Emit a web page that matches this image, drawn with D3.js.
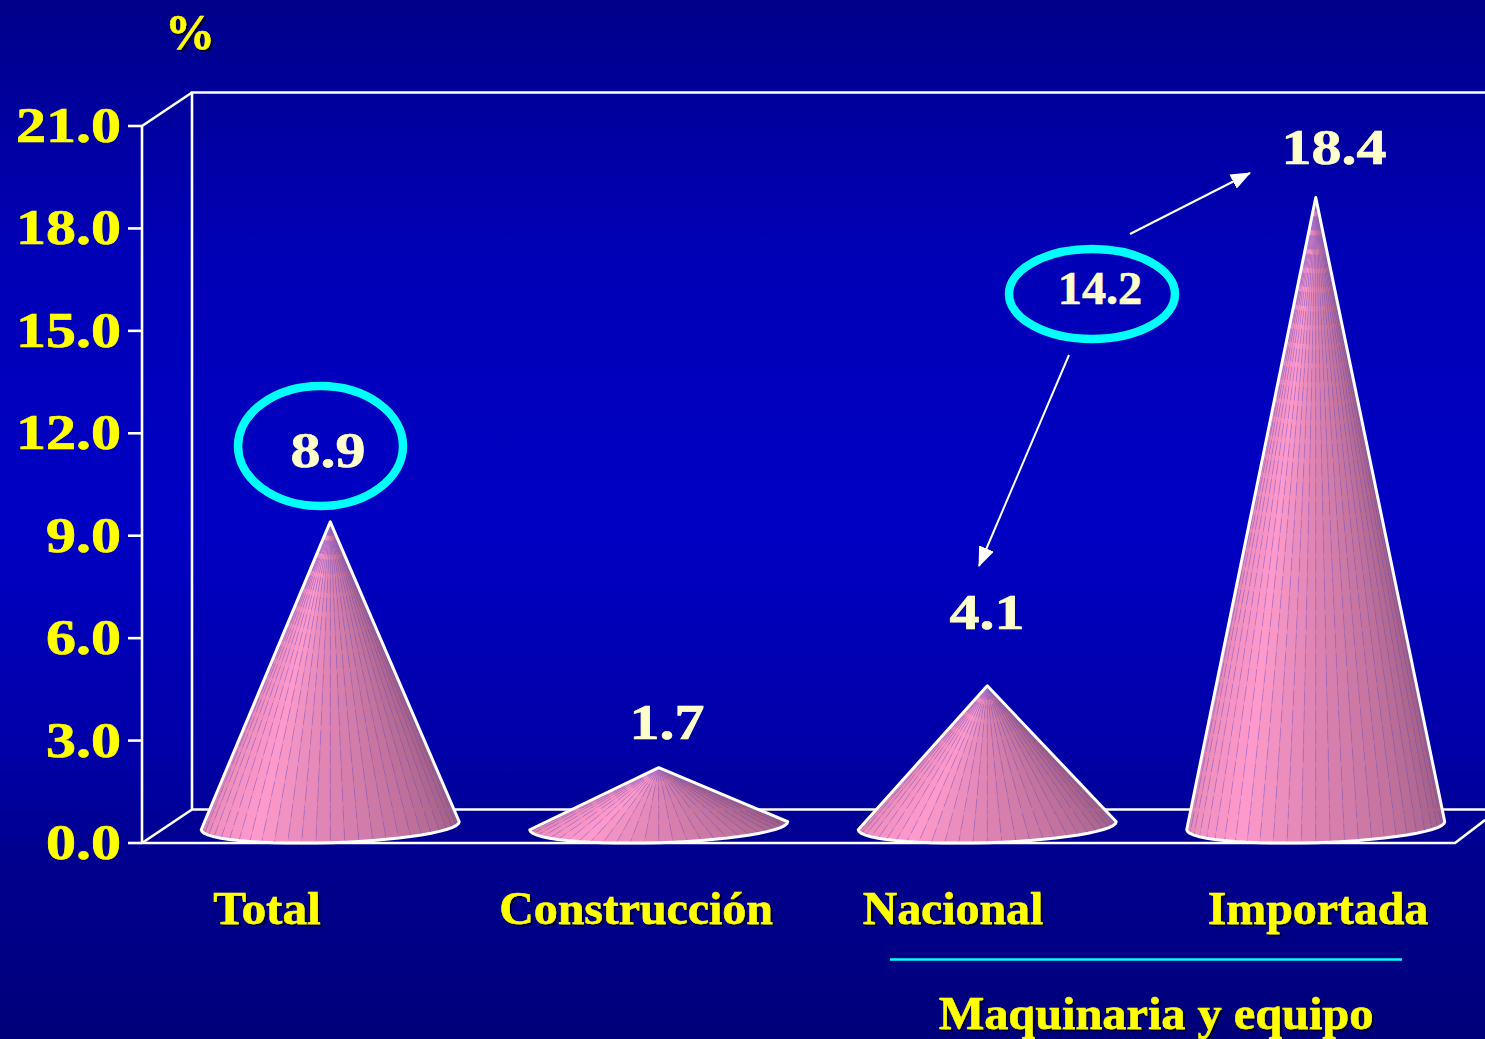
<!DOCTYPE html>
<html><head><meta charset="utf-8">
<script src="https://cdn.jsdelivr.net/npm/d3@7/dist/d3.min.js"></script>
<style>html,body{margin:0;padding:0;background:#000080;overflow:hidden}svg{display:block}
text{font-family:"Liberation Serif",serif;font-weight:bold}</style></head><body>
<script>
const categories = ["Total","Construcción","Nacional","Importada"];
const values = [8.9,1.7,4.1,18.4];
const valueLabels = ["8.9","1.7","4.1","18.4"];
const yTicks = [0,3,6,9,12,15,18,21];
const groupLabel = "Maquinaria y equipo";
const calloutValue = "14.2";
const unitLabel = "%";

const W=1485,H=1039;
const svg=d3.select("body").append("svg").attr("width",W).attr("height",H);
const defs=svg.append("defs");
const bg=defs.append("linearGradient").attr("id","bg").attr("x1",0).attr("x2",0).attr("y1",0).attr("y2",1);
[[0,"#00008a"],[0.24,"#0000b6"],[0.5,"#0000c4"],[0.72,"#0000a8"],[0.82,"#000090"],[1,"#00007a"]].forEach(s=>bg.append("stop").attr("offset",s[0]).attr("stop-color",s[1]));
const sh=defs.append("filter").attr("id","sh").attr("x","-10%").attr("y","-10%").attr("width","120%").attr("height","130%");
sh.append("feDropShadow").attr("dx",2).attr("dy",2).attr("stdDeviation",0.3).attr("flood-color","#000020").attr("flood-opacity",0.9);
const mk=defs.append("marker").attr("id","arr").attr("markerUnits","userSpaceOnUse").attr("markerWidth",20).attr("markerHeight",16)
  .attr("viewBox","0 0 20 16").attr("refX",19).attr("refY",8).attr("orient","auto");
mk.append("path").attr("d","M0,0L20,8L0,16Z").attr("fill","#fff");
svg.append("rect").attr("width",W).attr("height",H).attr("fill","url(#bg)");

// scales: front plane of the 3D box; the cones stand half way into its depth
const y=d3.scaleLinear().domain([0,21]).range([843,126]);
const x=d3.scaleBand().domain(categories).range([166,1480]);
const depthX=50,depthY=33.5;
const cx=c=>x(c)+x.bandwidth()/2;
const rx=129, ry=17, tilt=4;
const baseY=y(0)-depthY/2-0.5;

// frame
const frame=svg.append("g").attr("stroke","#fff").attr("fill","none").attr("stroke-width",2.6);
const wallX=142, floorEnd=1455;
frame.append("path").attr("d",`M${wallX+depthX},${y(0)-depthY}V${y(21)-depthY}H${W}`);
frame.append("path").attr("d",`M${wallX+depthX},${y(0)-depthY}H${W}`);
frame.append("path").attr("d",`M${wallX},${y(21)}V${y(0)}H${floorEnd}L${W},${y(0)-23}`);
frame.append("path").attr("d",`M${wallX},${y(21)}L${wallX+depthX},${y(21)-depthY}M${wallX},${y(0)}L${wallX+depthX},${y(0)-depthY}`);
frame.selectAll("line.t").data(yTicks).join("line").attr("class","t")
  .attr("x1",128).attr("x2",wallX).attr("y1",d=>y(d)).attr("y2",d=>y(d));

function sx(sel,px,py,k){return sel.attr("transform",`translate(${px},${py}) scale(${k},1)`);}

// y tick labels
svg.selectAll("text.tick").data(yTicks).join("text").attr("class","tick")
  .attr("text-anchor","end").attr("font-size",50).attr("fill","#ffff00")
  .attr("stroke","#ffff00").attr("stroke-width",0.7)
  .text(d=>d.toFixed(1)).each(function(d){sx(d3.select(this),121,y(d)+16,1.2);});

// cones
const nStrips=28;
const shade=d3.scaleLinear()
  .domain([0,0.12,0.3,0.5,0.75,1])
  .range(["#d07eb0","#f08ebe","#fe9acb","#de84b2","#bc6e98","#985a7e"])
  .interpolate(d3.interpolateRgb);
const thetas=d3.range(nStrips+1).map(i=>Math.PI-i*Math.PI/nStrips);
const cones=svg.selectAll("g.cone").data(categories.map((c,i)=>({c,v:values[i]}))).join("g").attr("class","cone");
cones.each(function(d){
  const g=d3.select(this), c=cx(d.c), apexY=y(d.v)-depthY/2-0.5;
  const pt=t=>[c+rx*Math.cos(t), Math.min(y(0), baseY+ry*Math.sin(t)-tilt*Math.cos(t))];
  const pts=thetas.map(pt);
  d3.range(nStrips).forEach(i=>{
    g.append("path").attr("d",`M${c},${apexY}L${pts[i]}L${pts[i+1]}Z`)
      .attr("fill",shade((i+0.5)/nStrips)).attr("stroke",shade((i+0.5)/nStrips)).attr("stroke-width",0.4);
  });
  d3.range(1,nStrips).forEach(i=>{
    g.append("line").attr("x1",c).attr("y1",apexY).attr("x2",pts[i][0]).attr("y2",pts[i][1])
      .attr("stroke","#7a5cc8").attr("stroke-width",0.8).attr("stroke-opacity",0.5).attr("stroke-dasharray","14 5");
  });
  g.append("path").attr("fill","none").attr("stroke","#fff").attr("stroke-width",3).attr("stroke-linejoin","round")
    .attr("d",`M${c},${apexY}L${pts.map(p=>p.join(",")).join("L")}Z`);
});

// value labels
const labelPos=[[328,467],[667,739],[987,629],[1334,164]];
svg.selectAll("text.val").data(valueLabels).join("text").attr("class","val")
  .attr("text-anchor","middle").attr("font-size",50).attr("fill","#ffffcc").attr("stroke","#ffffcc").attr("stroke-width",0.7).text(d=>d)
  .each(function(d,i){sx(d3.select(this),labelPos[i][0],labelPos[i][1],1.2);});
sx(svg.append("text").attr("text-anchor","middle").attr("font-size",46).attr("fill","#ffffcc").attr("stroke","#ffffcc").attr("stroke-width",0.6).text(calloutValue),1100,304,1.05);

// callout ellipses
const ell=[[320.5,446,82.5,60],[1092,294,83,45]];
svg.selectAll("ellipse").data(ell).join("ellipse").attr("cx",d=>d[0]).attr("cy",d=>d[1]).attr("rx",d=>d[2]).attr("ry",d=>d[3])
  .attr("fill","none").attr("stroke","#00ffff").attr("stroke-width",8.5);

// arrows
[[1130,234,1250,173],[1069,355,979,566]].forEach(a=>
  svg.append("line").attr("x1",a[0]).attr("y1",a[1]).attr("x2",a[2]).attr("y2",a[3])
    .attr("stroke","#fff").attr("stroke-width",2).attr("marker-end","url(#arr)"));

// category labels
const catX=[267,636,953,1318];
const catK=[1.07,1.04,1.04,1.04];
svg.selectAll("text.cat").data(categories).join("text").attr("class","cat")
  .attr("text-anchor","middle").attr("font-size",46).attr("fill","#ffff00").attr("stroke","#ffff00").attr("stroke-width",0.5).attr("filter","url(#sh)").text(d=>d)
  .each(function(d,i){sx(d3.select(this),catX[i],924,catK[i]);});
svg.append("line").attr("x1",890).attr("x2",1402).attr("y1",959.5).attr("y2",959.5).attr("stroke","#00ffff").attr("stroke-width",2.6);
sx(svg.append("text").attr("text-anchor","middle").attr("font-size",46).attr("fill","#ffff00").attr("stroke","#ffff00").attr("stroke-width",0.5).attr("filter","url(#sh)").text(groupLabel),1156,1029,1.05);
sx(svg.append("text").attr("text-anchor","middle").attr("font-size",50).attr("fill","#ffff00").attr("stroke","#ffff00").attr("stroke-width",0.5).attr("filter","url(#sh)").text(unitLabel),190,49,1);
</script></body></html>
